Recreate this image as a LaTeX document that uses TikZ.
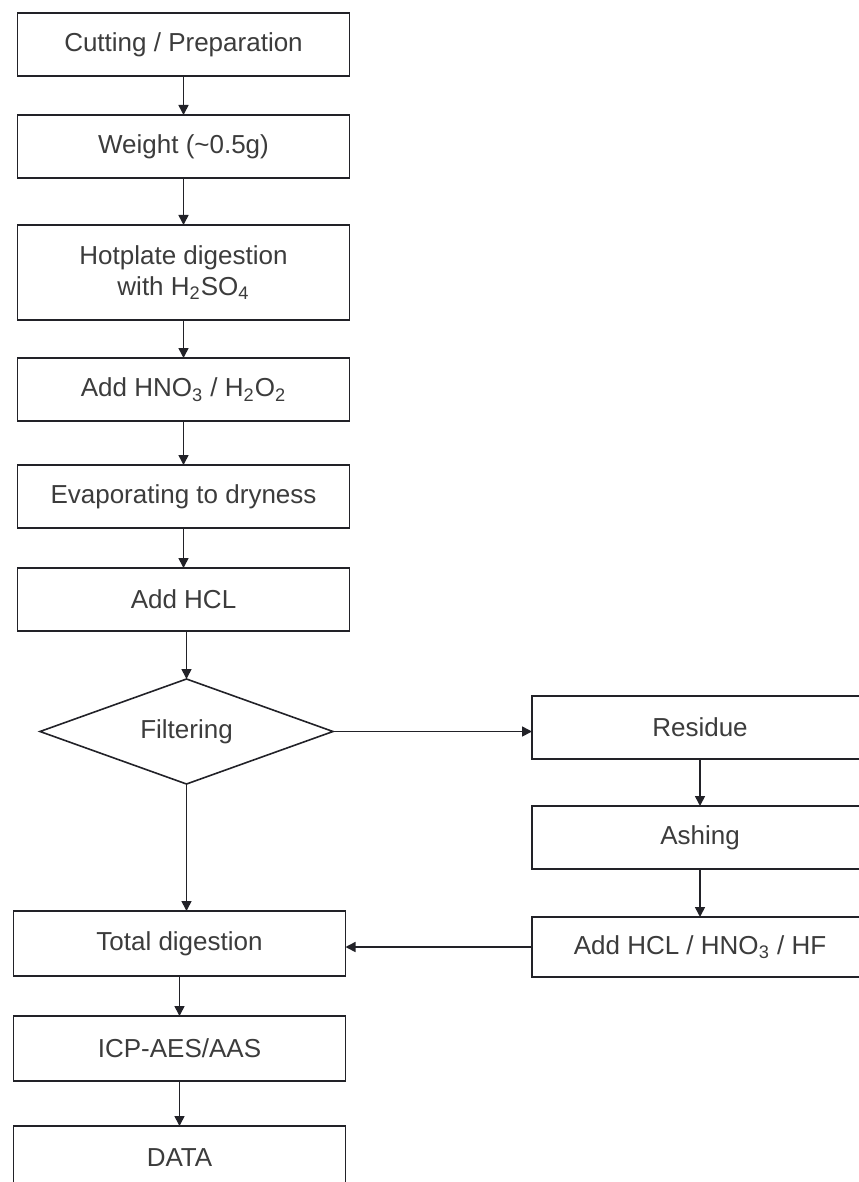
\documentclass[tikz,border=0pt]{standalone}
\usepackage{fontspec}
\setmainfont{Liberation Sans}
\usepackage{xcolor}
\usepackage{tikz}
\usetikzlibrary{shapes,arrows.meta,positioning}
\definecolor{flowline}{RGB}{34,34,40}
\definecolor{flowtext}{RGB}{60,60,60}

\begin{document}
\begin{tikzpicture}[
  font=\fontsize{13pt}{15.5pt}\selectfont,
  arrow/.style={-{Triangle[length=5pt,width=5pt]}, line width=0.8pt, draw=flowline},
  box/.style={rectangle, draw=flowline, line width=0.9pt, fill=white,
              text=flowtext, align=center, inner sep=2pt, outer sep=0pt,
              minimum width=166pt, minimum height=31.5pt},
  rbox/.style={box, minimum width=168pt},
  choice/.style={diamond, draw=flowline, line width=0.8pt, text=flowtext,
                 aspect=3, inner sep=0pt, outer sep=0pt,
                 minimum width=146.5pt, minimum height=52.5pt}
]
\useasboundingbox (0,0) rectangle (429pt,-591pt);

% --- Left column ---
\node[box] (cut) at (91.75pt,-22.25pt) {Cutting / Preparation};
\node[box, below=19.5pt of cut] (wgt) {Weight (\textasciitilde0.5g)};
\node[box, below=23.5pt of wgt, minimum height=47.5pt] (hot) {Hotplate digestion\\with H\textsubscript{2}SO\textsubscript{4}};
\node[box, below=19pt of hot] (hno) {Add HNO\textsubscript{3} / H\textsubscript{2}O\textsubscript{2}};
\node[box, below=22pt of hno] (evap) {Evaporating to dryness};
\node[box, below=20pt of evap] (hcl) {Add HCL};
\node[choice, below=24pt of hcl, xshift=1.5pt] (filt) {Filtering};
\node[box, below=63.5pt of filt, xshift=-3.5pt, minimum height=32.5pt] (tot) {Total digestion};
\node[box, below=20pt of tot, minimum height=32.5pt] (icp) {ICP-AES/AAS};
\node[box, below=22.5pt of icp] (data) {DATA};

% --- Right column ---
\node[rbox, right=99.5pt of filt, yshift=2pt] (res) {Residue};
\node[rbox, below=23.5pt of res] (ash) {Ashing};
\node[rbox, below=24pt of ash, minimum height=30pt] (acid) {Add HCL / HNO\textsubscript{3} / HF};

% --- Arrows ---
\draw[arrow] (cut) -- (wgt);
\draw[arrow] (wgt) -- (hot);
\draw[arrow] (hot) -- (hno);
\draw[arrow] (hno) -- (evap);
\draw[arrow] (evap) -- (hcl);
\draw[arrow] (filt.north |- hcl.south) -- (filt.north);
\draw[arrow] (filt.south) -- (filt.south |- tot.north);
\draw[arrow] (tot) -- (icp);
\draw[arrow] (icp) -- (data);
\draw[arrow] (filt.east) -- (filt.east -| res.west);
\draw[arrow] (res) -- (ash);
\draw[arrow] (ash) -- (acid);
\draw[arrow] (acid.west) -- (acid.west -| tot.east);

\end{tikzpicture}
\end{document}
